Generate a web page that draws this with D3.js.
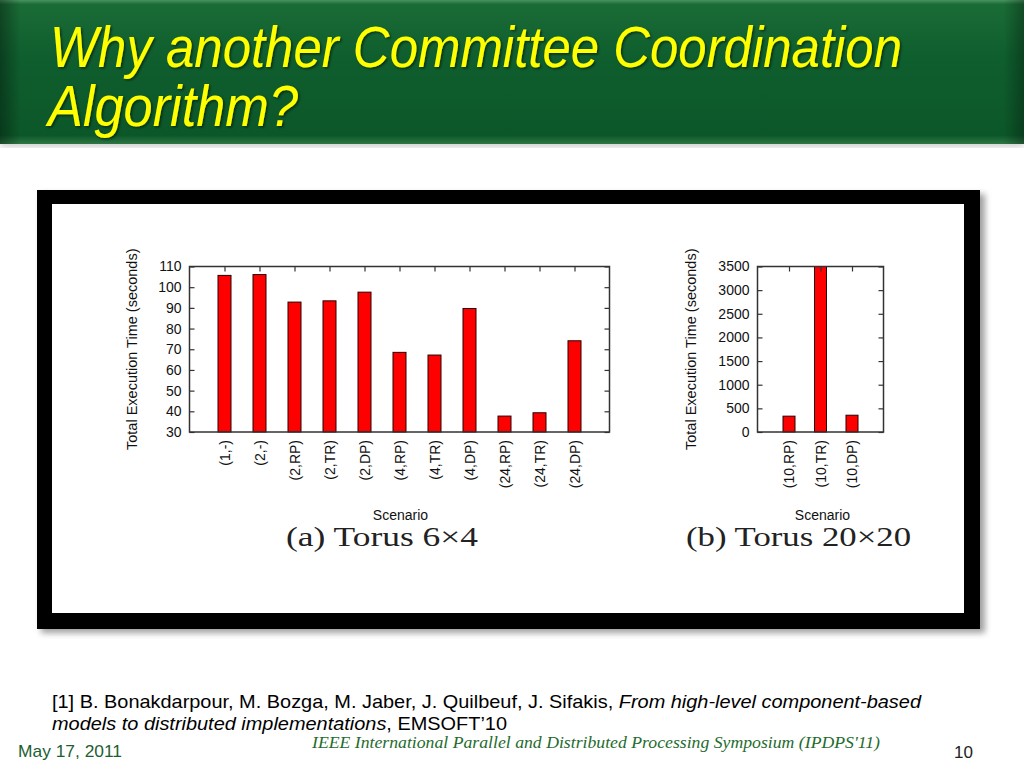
<!DOCTYPE html>
<html>
<head>
<meta charset="utf-8">
<script src="https://cdn.jsdelivr.net/npm/d3@7"></script>
<style>
  html, body { margin: 0; padding: 0; background: #fff; }
  svg { display: block; }
</style>
</head>
<body>
<svg id="slide" width="1024" height="768"></svg>
<script>
// ---- Data ----
const categoriesA = ["(1,-)","(2,-)","(2,RP)","(2,TR)","(2,DP)","(4,RP)","(4,TR)","(4,DP)","(24,RP)","(24,TR)","(24,DP)"];
const valuesA = [105.7, 106.1, 92.8, 93.4, 97.6, 68.5, 67.2, 89.7, 37.7, 39.3, 74.1];
const ticksA = [30, 40, 50, 60, 70, 80, 90, 100, 110];

const categoriesB = ["(10,RP)","(10,TR)","(10,DP)"];
const valuesB = [335, 3500, 355];
const ticksB = [0, 500, 1000, 1500, 2000, 2500, 3000, 3500];

const titleLines = ["Why another Committee Coordination", "Algorithm?"];
const yTitle = "Total Execution Time (seconds)";
const xTitle = "Scenario";
const captionA = "(a) Torus 6\u00d74";
const captionB = "(b) Torus 20\u00d720";

const svg = d3.select("#slide");
const defs = svg.append("defs");

// ---- Header band ----
const g1 = defs.append("linearGradient").attr("id","hdrV").attr("x1",0).attr("y1",0).attr("x2",0).attr("y2",1);
[["0%","#4a9360"],["3%","#1a6c36"],["40%","#0f5e2e"],["94%","#0c5729"],["100%","#2f7744"]]
  .forEach(s => g1.append("stop").attr("offset", s[0]).attr("stop-color", s[1]));
const g2 = defs.append("linearGradient").attr("id","hdrH").attr("x1",0).attr("y1",0).attr("x2",1).attr("y2",0);
[["0%","#000",0.35],["2%","#000",0.0],["98%","#000",0.0],["100%","#000",0.3]]
  .forEach(s => g2.append("stop").attr("offset", s[0]).attr("stop-color", s[1]).attr("stop-opacity", s[2]));
const blur = defs.append("filter").attr("id","blur").attr("x","-10%").attr("y","-10%").attr("width","120%").attr("height","130%");
blur.append("feGaussianBlur").attr("stdDeviation", 3);
const tshadow = defs.append("filter").attr("id","tshadow");
tshadow.append("feDropShadow").attr("dx",1.5).attr("dy",1.5).attr("stdDeviation",1).attr("flood-color","#000").attr("flood-opacity",0.5);

svg.append("rect").attr("x",0).attr("y",140).attr("width",1024).attr("height",6)
  .attr("fill","#999").attr("opacity",0.6).attr("filter","url(#blur)");
svg.append("rect").attr("x",0).attr("y",0).attr("width",1024).attr("height",144).attr("fill","url(#hdrV)");
svg.append("rect").attr("x",0).attr("y",0).attr("width",1024).attr("height",144).attr("fill","url(#hdrH)");

const TITLEFONT = "'Liberation Sans Narrow','Liberation Sans',Arial,sans-serif";
const titleG = svg.append("g").attr("filter","url(#tshadow)");
titleG.append("text").attr("x",50).attr("y",67)
  .attr("font-family",TITLEFONT)
  .attr("font-style","italic").attr("font-size",57).attr("fill","#ffff00")
  .attr("textLength",852).attr("lengthAdjust","spacingAndGlyphs").text(titleLines[0]);
titleG.append("text").attr("x",48).attr("y",126)
  .attr("font-family",TITLEFONT)
  .attr("font-style","italic").attr("font-size",57).attr("fill","#ffff00")
  .attr("textLength",250).attr("lengthAdjust","spacingAndGlyphs").text(titleLines[1]);

// ---- Figure frame ----
svg.append("rect").attr("x",41).attr("y",194).attr("width",944).attr("height",439)
  .attr("fill","#777").attr("opacity",0.7).attr("filter","url(#blur)");
svg.append("rect").attr("x",37).attr("y",190).attr("width",943).attr("height",439).attr("fill","#000");
svg.append("rect").attr("x",52).attr("y",204).attr("width",912).attr("height",409).attr("fill","#fff");

const FONT = "'Liberation Sans',Arial,Helvetica,sans-serif";

function drawPanel(cfg) {
  const { left, right, top, bottom, cats, vals, ticks, domain, barW, caption, capX, capW } = cfg;
  const x = d3.scalePoint().domain(cats).range([left, right]).padding(1);
  const y = d3.scaleLinear().domain(domain).range([bottom, top]);
  const g = svg.append("g");

  // bars
  g.selectAll("rect.bar").data(vals).join("rect")
    .attr("class","bar")
    .attr("x", (d,i) => x(cats[i]) - barW/2)
    .attr("y", d => y(Math.min(d, domain[1])))
    .attr("width", barW)
    .attr("height", d => y(domain[0]) - y(Math.min(d, domain[1])))
    .attr("fill","#ff0000").attr("stroke","#2a0000").attr("stroke-width",1);

  // left axis (ticks inward)
  const ax = g.append("g").attr("transform",`translate(${left},0)`)
    .call(d3.axisLeft(y).tickValues(ticks).tickSize(-5).tickPadding(8).tickFormat(d3.format("d")));
  ax.select(".domain").remove();
  ax.selectAll("text").attr("font-family",FONT).attr("font-size",14).attr("fill","#111");
  ax.selectAll("line").attr("stroke","#333").attr("stroke-width",1.2);

  // right mirrored ticks
  const axr = g.append("g").attr("transform",`translate(${right},0)`)
    .call(d3.axisRight(y).tickValues(ticks).tickSize(-5).tickFormat(""));
  axr.select(".domain").remove();
  axr.selectAll("line").attr("stroke","#333").attr("stroke-width",1.2);

  // top ticks
  const axt = g.append("g").attr("transform",`translate(0,${top})`)
    .call(d3.axisTop(x).tickSize(-5).tickFormat(""));
  axt.select(".domain").remove();
  axt.selectAll("line").attr("stroke","#333").attr("stroke-width",1.2);

  // bottom axis labels (rotated)
  const axb = g.append("g").attr("transform",`translate(0,${bottom})`)
    .call(d3.axisBottom(x).tickSize(0).tickPadding(0));
  axb.select(".domain").remove();
  axb.selectAll("text")
    .attr("font-family",FONT).attr("font-size",14).attr("fill","#111")
    .attr("text-anchor","end").attr("dy","0.35em")
    .attr("transform","translate(0,8) rotate(-90)")
    .attr("x",0).attr("y",0);

  // frame
  g.append("rect").attr("x",left).attr("y",top).attr("width",right-left).attr("height",bottom-top)
    .attr("fill","none").attr("stroke","#333").attr("stroke-width",1.5);

  // y title
  g.append("text").attr("transform",`translate(${left-cfg.ytOff},${(top+bottom)/2}) rotate(-90)`)
    .attr("text-anchor","middle").attr("dy","0.35em")
    .attr("font-family",FONT).attr("font-size",14.5).attr("fill","#111").text(yTitle);
  // x title
  g.append("text").attr("x",(left+right)/2 + cfg.xtOff).attr("y",520)
    .attr("text-anchor","middle")
    .attr("font-family",FONT).attr("font-size",14).attr("fill","#111").text(xTitle);
  // caption
  g.append("text").attr("x",capX).attr("y",546)
    .attr("font-family","'Liberation Serif','Times New Roman',serif").attr("font-size",27).attr("fill","#222")
    .attr("textLength",capW).attr("lengthAdjust","spacingAndGlyphs").text(caption);
}

drawPanel({ left:189.5, right:609.5, top:266.5, bottom:432, cats:categoriesA, vals:valuesA,
  ticks:ticksA, domain:[30,110], barW:13, caption:captionA, capX:286, capW:192, xtOff:1, ytOff:58 });
drawPanel({ left:757.5, right:883.5, top:266.5, bottom:432, cats:categoriesB, vals:valuesB,
  ticks:ticksB, domain:[0,3500], barW:12, caption:captionB, capX:686, capW:225, xtOff:2, ytOff:67 });

// ---- Footer ----
const ref = svg.append("text").attr("x",52).attr("y",708)
  .attr("font-family",FONT).attr("font-size",18.5).attr("fill","#000")
  .attr("textLength",869).attr("lengthAdjust","spacingAndGlyphs");
ref.append("tspan").text("[1] B. Bonakdarpour, M. Bozga, M. Jaber, J. Quilbeuf, J. Sifakis, ");
ref.append("tspan").attr("font-style","italic").text("From high-level component-based");
const ref2 = svg.append("text").attr("x",52).attr("y",730)
  .attr("font-family",FONT).attr("font-size",18.5).attr("fill","#000")
  .attr("textLength",455).attr("lengthAdjust","spacingAndGlyphs");
ref2.append("tspan").attr("font-style","italic").text("models to distributed implementations");
ref2.append("tspan").text(", EMSOFT\u201910");

svg.append("text").attr("x",18).attr("y",757)
  .attr("font-family",FONT).attr("font-size",17).attr("fill","#1d5e33")
  .attr("textLength",104).attr("lengthAdjust","spacingAndGlyphs").text("May 17, 2011");
svg.append("text").attr("x",312).attr("y",748)
  .attr("font-family","'Liberation Serif','Times New Roman',serif").attr("font-style","italic")
  .attr("font-size",17).attr("fill","#1f6b2e")
  .attr("textLength",568).attr("lengthAdjust","spacingAndGlyphs")
  .text("IEEE International Parallel and Distributed Processing Symposium (IPDPS'11)");
svg.append("text").attr("x",973).attr("y",758).attr("text-anchor","end")
  .attr("font-family",FONT).attr("font-size",17).attr("fill","#222").text("10");
</script>
</body>
</html>
